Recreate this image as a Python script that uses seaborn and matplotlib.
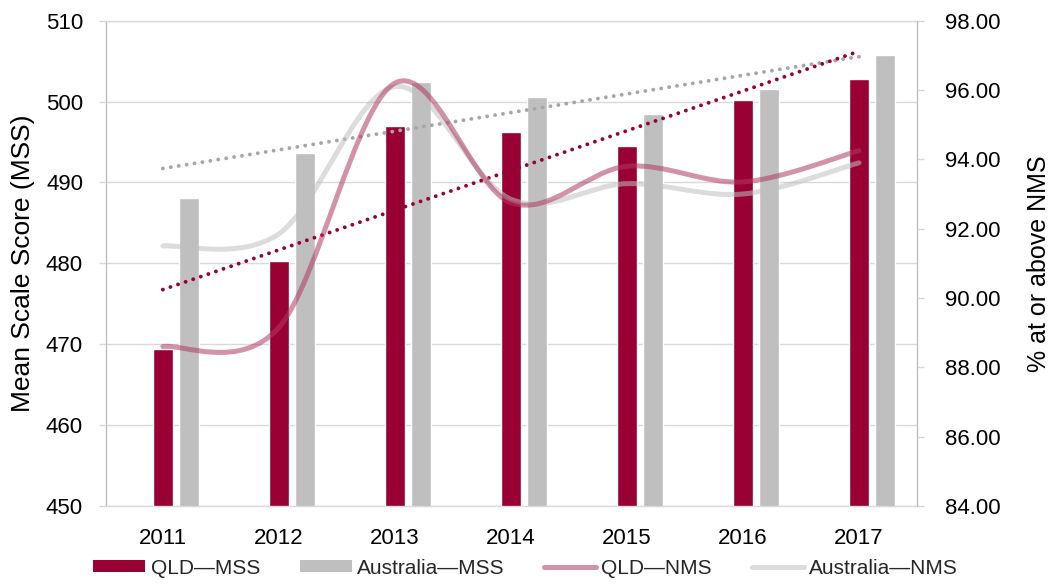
import numpy as np
import pandas as pd
import matplotlib
matplotlib.use("Agg")
import matplotlib.pyplot as plt
from matplotlib.path import Path
from matplotlib.patches import PathPatch, Patch
from matplotlib.lines import Line2D
from matplotlib.ticker import FormatStrFormatter, MultipleLocator
import seaborn as sns

# ---- data ---------------------------------------------------------------
years = [2011, 2012, 2013, 2014, 2015, 2016, 2017]
qld_mss = [469.4, 480.3, 497.0, 496.2, 494.5, 500.2, 502.8]
aus_mss = [488.1, 493.7, 502.4, 500.6, 498.5, 501.5, 505.7]
qld_nms = [88.6, 89.15, 96.2, 92.75, 93.8, 93.35, 94.25]
aus_nms = [91.5, 91.85, 96.1, 92.85, 93.3, 93.0, 93.9]
series_names = ["QLD—MSS", "Australia—MSS", "QLD—NMS", "Australia—NMS"]

# ---- styling ------------------------------------------------------------
RED = "#990033"
GREY = "#BFBFBF"
PINK = "#B03A5E"
LIGHT = "#C0C0C0"
TREND_GREY = "#A6A6A6"
GRID = "#D9D9D9"
AXIS = "#BFBFBF"
LINE_ALPHA = 0.55

sns.set_theme(style="white")
plt.rcParams["font.family"] = ["Liberation Sans", "DejaVu Sans"]

fig = plt.figure(figsize=(10.51, 5.86), dpi=100)
W, H = 1051, 586
ax = fig.add_axes([106 / W, 1 - 506 / H, 811 / W, (506 - 20.7) / H])

# ---- bars (left axis) ---------------------------------------------------
bars = pd.DataFrame({
    "year": years * 2,
    "score": qld_mss + aus_mss,
    "series": [series_names[0]] * len(years) + [series_names[1]] * len(years),
})
sns.barplot(data=bars, x="year", y="score", hue="series",
            hue_order=series_names[:2], palette=[RED, GREY],
            native_scale=True, width=0.448, gap=0.232, saturation=1,
            errorbar=None, legend=False, ax=ax, zorder=2)

# category centres follow the QLD bars
qld_bars = sorted(ax.containers[0], key=lambda p: p.get_x())
centers = np.array([p.get_x() + p.get_width() / 2 for p in qld_bars])

# ---- linear trends of the MSS series -------------------------------------
for vals, col in [(aus_mss, TREND_GREY), (qld_mss, RED)]:
    sns.regplot(x=centers, y=np.array(vals), ax=ax, scatter=False, ci=None,
                truncate=True,
                line_kws=dict(color=col, lw=2.8, linestyle=(0, (0.01, 2.05)),
                              dash_capstyle="round", zorder=3))

ax.set_ylim(450, 510)
ax.yaxis.set_major_locator(MultipleLocator(10))
ax.set_xlim(centers[0] - 0.49, centers[-1] + 0.5)
ax.set_xticks(centers, labels=[str(y) for y in years])
ax.set_xlabel("")
ax.set_ylabel("Mean Scale Score (MSS)", fontsize=19, labelpad=8, color="black")
ax.grid(axis="y", color=GRID, lw=1.0)
ax.grid(axis="x", visible=False)
ax.set_axisbelow(True)
ax.tick_params(axis="y", left=True, length=5, width=1, color=GRID,
               labelsize=16, pad=11.5, labelcolor="black")
ax.tick_params(axis="x", bottom=False, length=0, labelsize=16, pad=16,
               labelcolor="black")
ax.spines["left"].set_color(AXIS)
ax.spines["bottom"].set_color(GRID)
ax.spines["top"].set_color(GRID)
ax.spines["right"].set_visible(False)
for s in ax.spines.values():
    s.set_linewidth(1.0)

# ---- smoothed NMS lines (right axis) ------------------------------------
ax2 = ax.twinx()


def smooth_path(xs, ys):
    pts = np.column_stack([xs, ys])
    n = len(pts)
    verts, codes = [pts[0]], [Path.MOVETO]
    for i in range(n - 1):
        prev_pt = pts[i - 1] if i > 0 else pts[i]
        next_pt = pts[i + 2] if i + 2 < n else pts[i + 1]
        c1 = pts[i] + (pts[i + 1] - prev_pt) / 6
        c2 = pts[i + 1] - (next_pt - pts[i]) / 6
        verts += [c1, c2, pts[i + 1]]
        codes += [Path.CURVE4] * 3
    return Path(verts, codes)


for vals, col in [(aus_nms, LIGHT), (qld_nms, PINK)]:
    ax2.add_patch(PathPatch(smooth_path(centers, vals), fill=False,
                            edgecolor=col, alpha=LINE_ALPHA, lw=3.6,
                            capstyle="round", joinstyle="round", zorder=4))

ax2.set_ylim(84, 98)
ax2.yaxis.set_major_locator(MultipleLocator(2))
ax2.yaxis.set_major_formatter(FormatStrFormatter("%.2f"))
ax2.set_ylabel("% at or above NMS", fontsize=18, labelpad=19, color="black")
ax2.tick_params(axis="y", right=True, length=5, width=1, color=GRID,
                labelsize=16, pad=15, labelcolor="black")
ax2.grid(False)
for side in ["left", "top", "bottom"]:
    ax2.spines[side].set_visible(False)
ax2.spines["right"].set_color(AXIS)
ax2.spines["right"].set_linewidth(1.0)

# ---- legend ---------------------------------------------------------------
handles = [
    Patch(facecolor=RED, edgecolor="none"),
    Patch(facecolor=GREY, edgecolor="none"),
    Line2D([], [], color=PINK, alpha=LINE_ALPHA, lw=3.6, solid_capstyle="round"),
    Line2D([], [], color=LIGHT, alpha=LINE_ALPHA, lw=3.6, solid_capstyle="round"),
]
fig.legend(handles, series_names, loc="center", ncol=4,
           bbox_to_anchor=(0.5, 1 - 568 / H), frameon=False, fontsize=15,
           handlelength=2.5, handleheight=0.5, handletextpad=0.25,
           columnspacing=1.9, borderaxespad=0)

fig.savefig("out.png", dpi=100)
